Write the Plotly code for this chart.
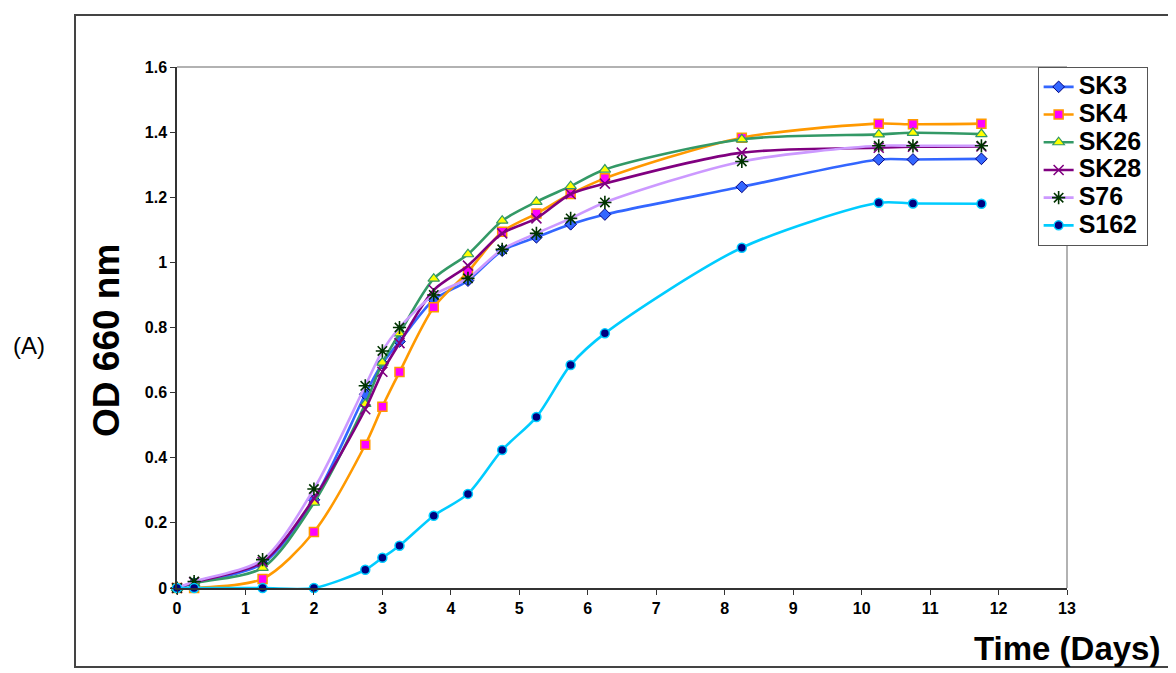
import plotly.graph_objects as go

days = [0, 0.25, 1.25, 2, 2.75, 3, 3.25, 3.75, 4.25, 4.75, 5.25, 5.75, 6.25, 8.25, 10.25, 10.75, 11.75]

sk3 = [0, 0.015, 0.075, 0.271, 0.595, 0.69, 0.757, 0.885, 0.944, 1.036, 1.077, 1.117, 1.147, 1.232, 1.316, 1.316, 1.318]
sk4 = [0, 0.0, 0.028, 0.172, 0.44, 0.557, 0.663, 0.862, 0.971, 1.094, 1.15, 1.21, 1.258, 1.383, 1.426, 1.424, 1.426]
sk26 = [0, 0.015, 0.062, 0.262, 0.565, 0.692, 0.782, 0.95, 1.025, 1.128, 1.186, 1.234, 1.285, 1.378, 1.393, 1.398, 1.394]
sk28 = [0, 0.018, 0.08, 0.275, 0.549, 0.664, 0.752, 0.915, 0.99, 1.089, 1.135, 1.21, 1.242, 1.337, 1.352, 1.355, 1.356]
s76 = [0, 0.02, 0.087, 0.304, 0.621, 0.728, 0.8, 0.9, 0.951, 1.04, 1.089, 1.135, 1.184, 1.31, 1.358, 1.358, 1.358]
s162 = [0, 0, 0, 0, 0.056, 0.093, 0.13, 0.222, 0.289, 0.424, 0.525, 0.685, 0.782, 1.045, 1.183, 1.181, 1.18]

series = [
    ("SK3", sk3, "#3366FF", dict(symbol="diamond", size=9, color="#3366FF", line=dict(color="#000080", width=1))),
    ("SK4", sk4, "#FF9900", dict(symbol="square", size=9, color="#FF00FF", line=dict(color="#FF9900", width=1.5))),
    ("SK26", sk26, "#339966", dict(symbol="triangle-up", size=10, color="#FFFF00", line=dict(color="#339966", width=1.2))),
    ("SK28", sk28, "#800080", dict(symbol="x-thin-open", size=10, color="#800080", line=dict(color="#800080", width=1.6))),
    ("S76", s76, "#CC99FF", dict(symbol="asterisk-open", size=11, color="#003300", line=dict(color="#003300", width=1.6))),
    ("S162", s162, "#00CCFF", dict(symbol="circle", size=9, color="#000080", line=dict(color="#00CCFF", width=1.5))),
]

fig = go.Figure()
for name, vals, lc, mk in series:
    fig.add_trace(go.Scatter(
        x=days, y=vals, name='<span style="font-size:25px">' + name + '</span>',
        mode="lines+markers",
        line=dict(color=lc, width=2.6, shape="spline", smoothing=0.8),
        marker=mk, cliponaxis=False,
    ))

FONT = "Arial, Liberation Sans, sans-serif"

fig.update_layout(
    width=1176, height=673,
    margin=dict(l=169, r=117, t=59, b=93),
    paper_bgcolor="white", plot_bgcolor="white",
    font=dict(family=FONT, color="black"),
    showlegend=True,
    legend=dict(
        x=0.967, y=1.0, xanchor="left", yanchor="top",
        bordercolor="#555555", borderwidth=1, bgcolor="white",
        font=dict(family=FONT, size=19, weight="bold", color="black"),
        tracegroupgap=0, itemwidth=30,
    ),
    xaxis=dict(
        range=[0, 13], dtick=1, tick0=0, showgrid=False, zeroline=False,
        showline=True, linecolor="#333333", linewidth=1.5,
        ticks="outside", ticklen=5, tickcolor="#333333",
        tickfont=dict(family=FONT, size=16, weight="bold"),
    ),
    yaxis=dict(
        range=[0, 1.6], dtick=0.2, tick0=0, showgrid=False, zeroline=False,
        showline=True, linecolor="#333333", linewidth=1.5,
        ticks="outside", ticklen=5, tickcolor="#333333",
        tickfont=dict(family=FONT, size=16, weight="bold"),
    ),
    shapes=[
        dict(type="line", xref="paper", yref="paper", x0=0, x1=1, y0=1, y1=1,
             line=dict(color="#999999", width=1.5)),
        dict(type="line", xref="paper", yref="paper", x0=1, x1=1, y0=0, y1=1,
             line=dict(color="#999999", width=1.5)),
        dict(type="rect", xref="paper", yref="paper", x0=-0.1146, x1=1.1157, y0=-0.1516, y1=1.0998,
             line=dict(color="#444444", width=2), layer="below"),
    ],
    annotations=[
        dict(text="OD 660 nm", xref="paper", yref="paper", x=-0.0798, y=0.476,
             xanchor="center", yanchor="middle",
             textangle=-90, showarrow=False, font=dict(family=FONT, size=37, weight="bold")),
        dict(text="Time (Days)", xref="paper", yref="paper", x=1.1067, y=-0.1152,
             xanchor="right", yanchor="middle",
             showarrow=False, font=dict(family=FONT, size=33, weight="bold")),
        dict(text="(A)", xref="paper", yref="paper", x=-0.1663, y=0.466,
             xanchor="center", yanchor="middle",
             showarrow=False, font=dict(family=FONT, size=24)),
    ],
)

fig.write_html("out.html")
